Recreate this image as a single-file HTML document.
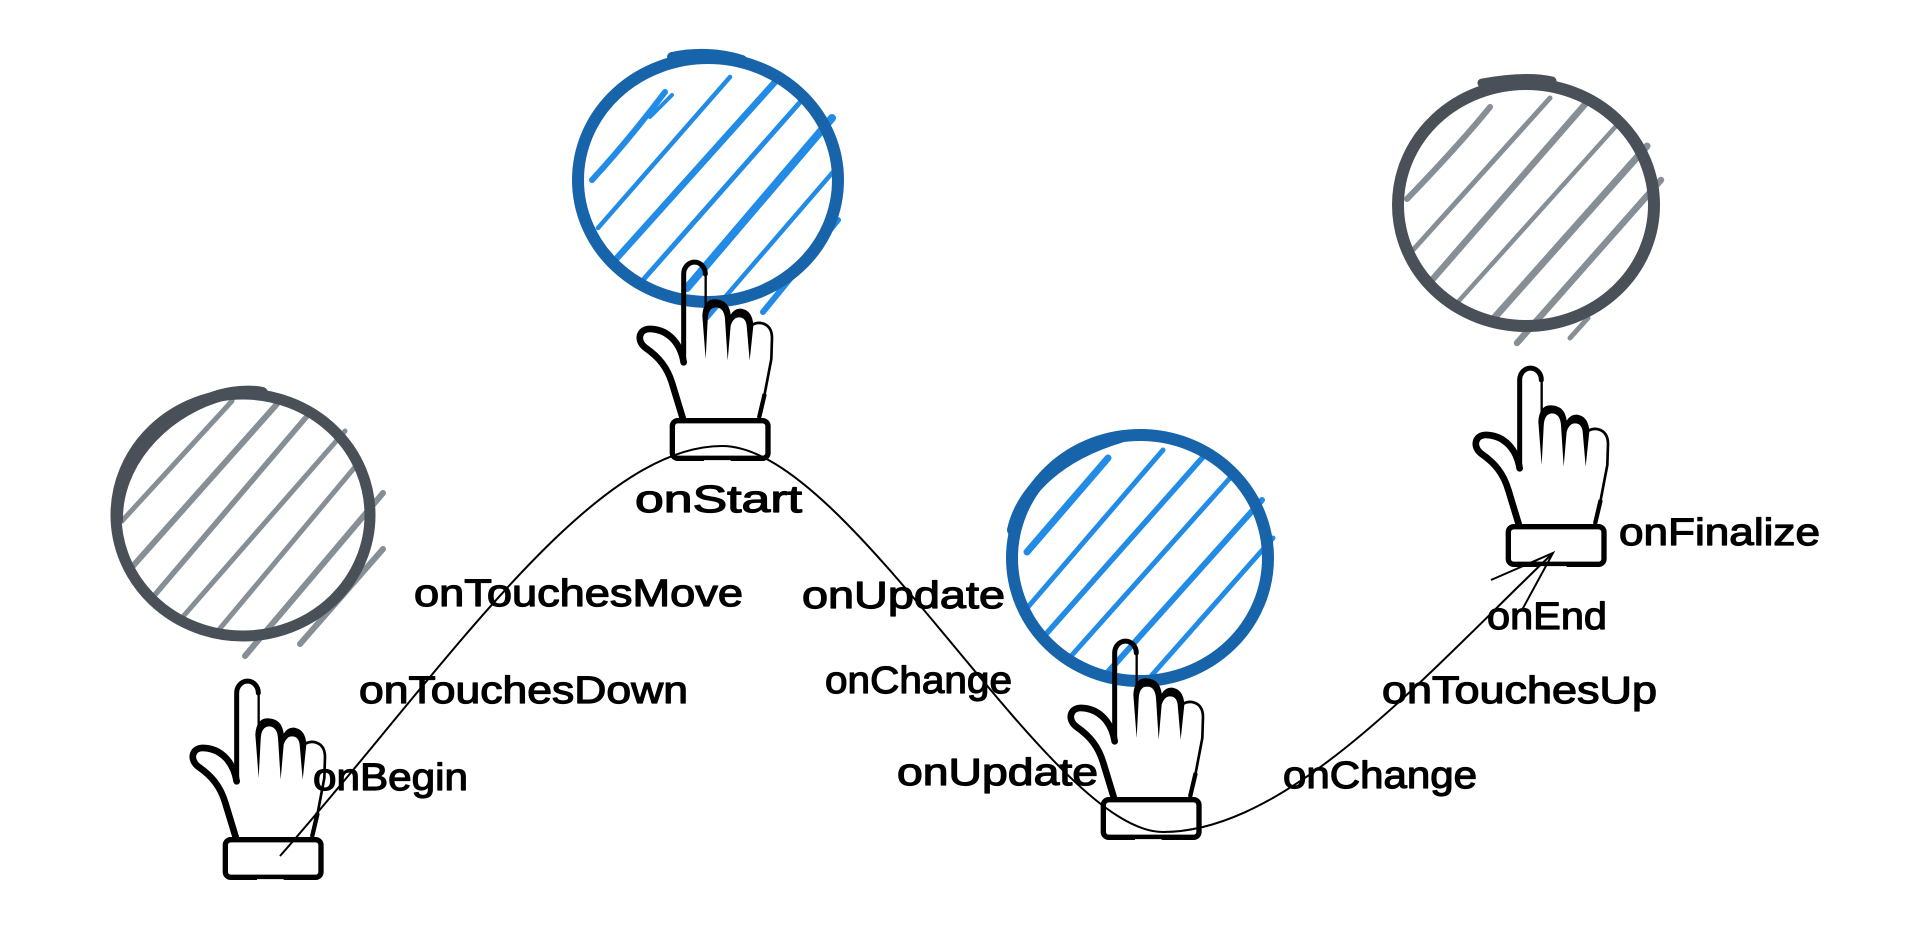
<!DOCTYPE html>
<html><head><meta charset="utf-8"><style>
html,body{margin:0;padding:0;background:#fff;width:1920px;height:933px;overflow:hidden}
svg{display:block}
text{font-family:"Liberation Sans",sans-serif;font-size:38px;fill:#000;stroke:#000;stroke-width:1.2;stroke-linejoin:round}
.g{stroke:#868e96;fill:none;stroke-linecap:round}
.b{stroke:#228be6;fill:none;stroke-linecap:round}
</style></head><body>
<svg width="1920" height="933" viewBox="0 0 1920 933" xmlns="http://www.w3.org/2000/svg">
<rect width="1920" height="933" fill="#fff"/>
<defs>
<g id="hand" transform="translate(1380 350) scale(.33333)">
<path d="M419 355 L419 90 A32 35 0 0 1 484 90" fill="none" stroke="#000" stroke-width="15" stroke-linecap="round"/>
<path d="M485 85 L485 185" fill="none" stroke="#000" stroke-width="7"/>
<path d="M419 355 C410 300 375 258 322 255 C285 252 275 290 305 312 C345 340 370 370 385 420 L416 522" fill="none" stroke="#000" stroke-width="20" stroke-linecap="round"/>
<path d="M485 345 L475 215 Q478 164 515 166 Q555 168 560 212 Q572 192 592 194 Q626 200 628 245 L617 350 L608 245 Q605 220 585 220 Q568 220 560 245 L551 350 L543 225 Q540 190 515 190 Q492 192 491 230 Z" fill="#000"/>
<path d="M625 242 Q640 234 655 238 Q684 246 684 282 L682 345 L662 450 L645 522" fill="none" stroke="#000" stroke-width="8"/>
<path d="M662 450 L645 522" fill="none" stroke="#000" stroke-width="13"/>
<rect x="385" y="530" width="287" height="113" rx="16" fill="none" stroke="#000" stroke-width="16"/>
<path d="M480 650 L560 650" stroke="#fff" stroke-width="3" fill="none"/>
</g>
</defs>

<!-- gray circle left -->
<g class="g">
<path stroke-width="5" d="M232 401L122 521"/>
<path stroke-width="6" d="M277 404L133 566"/>
<path stroke-width="5.5" d="M308 415L153 597"/>
<path stroke-width="5" d="M345 431L180 620"/>
<path stroke-width="5" d="M355 467L217 632"/>
<path stroke-width="6" d="M383 493L245 656"/>
<path stroke-width="6" d="M383 549L300 644"/>
</g>
<ellipse cx="243" cy="515" rx="127" ry="121" fill="none" stroke="#495057" stroke-width="11"/>
<path d="M117 520 C116 465 160 415 215 397 C230 392 250 390 262 393" fill="none" stroke="#495057" stroke-width="12" stroke-linecap="round"/>

<!-- blue top -->
<g class="b">
<path stroke-width="6" d="M665 92C640 125 615 155 592 180"/>
<path stroke-width="4" d="M672 95L650 117"/>
<path stroke-width="4.5" d="M730 77L598 228"/>
<path stroke-width="6.5" d="M775 82L617 258"/>
<path stroke-width="5" d="M802 100L643 280"/>
<path stroke-width="8" d="M832 118L687 288"/>
<path stroke-width="4.5" d="M833 172L707 318"/>
<path stroke-width="6" d="M838 220L763 312"/>
</g>
<ellipse cx="708" cy="180" rx="130" ry="122" fill="none" stroke="#1864ab" stroke-width="12"/>
<path d="M672 57C695 52 720 53 742 60" fill="none" stroke="#1864ab" stroke-width="10" stroke-linecap="round"/>

<!-- blue mid -->
<g class="b">
<path stroke-width="7" d="M1108 458L1027 552"/>
<path stroke-width="5" d="M1163 450L1028 607"/>
<path stroke-width="5.5" d="M1203 457L1047 633"/>
<path stroke-width="5" d="M1230 478L1072 655"/>
<path stroke-width="6" d="M1262 500L1108 672"/>
<path stroke-width="5" d="M1273 538L1152 675"/>
</g>
<ellipse cx="1140" cy="558" rx="128" ry="123" fill="none" stroke="#1864ab" stroke-width="12"/>
<path d="M1013 530C1022 490 1060 455 1120 437" fill="none" stroke="#1864ab" stroke-width="12" stroke-linecap="round"/>

<!-- gray right -->
<g class="g">
<path stroke-width="6" d="M1490 107C1465 138 1435 170 1407 199"/>
<path stroke-width="5" d="M1550 98L1413 250"/>
<path stroke-width="6.5" d="M1587 102L1432 280"/>
<path stroke-width="4.5" d="M1617 125L1457 303"/>
<path stroke-width="7" d="M1647 146L1495 317"/>
<path stroke-width="6.5" d="M1661 180L1517 343"/>
<path stroke-width="5" d="M1588 318L1570 338"/>
</g>
<ellipse cx="1526" cy="205" rx="128" ry="121" fill="none" stroke="#495057" stroke-width="12"/>
<path d="M1482 83C1510 78 1535 77 1552 81" fill="none" stroke="#495057" stroke-width="9" stroke-linecap="round"/>

<!-- hands -->
<use href="#hand" transform="translate(-1283 313)"/>
<use href="#hand" transform="translate(-836 -106)"/>
<use href="#hand" transform="translate(-405 273)"/>
<use href="#hand"/>

<!-- curve -->
<path d="M280 856 C440 675 590 446 722 446 C850 446 1050 832 1163 832 C1290 832 1430 670 1553 553" fill="none" stroke="#000" stroke-width="2"/>
<path d="M1491 580L1553 553L1522 610" fill="none" stroke="#000" stroke-width="2"/>

<!-- labels -->
<text x="313" y="790" textLength="155" lengthAdjust="spacingAndGlyphs">onBegin</text>
<text x="359" y="703" textLength="329" lengthAdjust="spacingAndGlyphs">onTouchesDown</text>
<text x="414" y="606" textLength="329" lengthAdjust="spacingAndGlyphs">onTouchesMove</text>
<text x="635" y="512" textLength="167" lengthAdjust="spacingAndGlyphs">onStart</text>
<text x="802" y="608" textLength="203" lengthAdjust="spacingAndGlyphs">onUpdate</text>
<text x="825" y="693" textLength="187" lengthAdjust="spacingAndGlyphs">onChange</text>
<text x="897" y="785" textLength="201" lengthAdjust="spacingAndGlyphs">onUpdate</text>
<text x="1283" y="788" textLength="194" lengthAdjust="spacingAndGlyphs">onChange</text>
<text x="1382" y="703" textLength="275" lengthAdjust="spacingAndGlyphs">onTouchesUp</text>
<text x="1487" y="629" textLength="120" lengthAdjust="spacingAndGlyphs">onEnd</text>
<text x="1619" y="545" textLength="201" lengthAdjust="spacingAndGlyphs">onFinalize</text>
</svg>
</body></html>
